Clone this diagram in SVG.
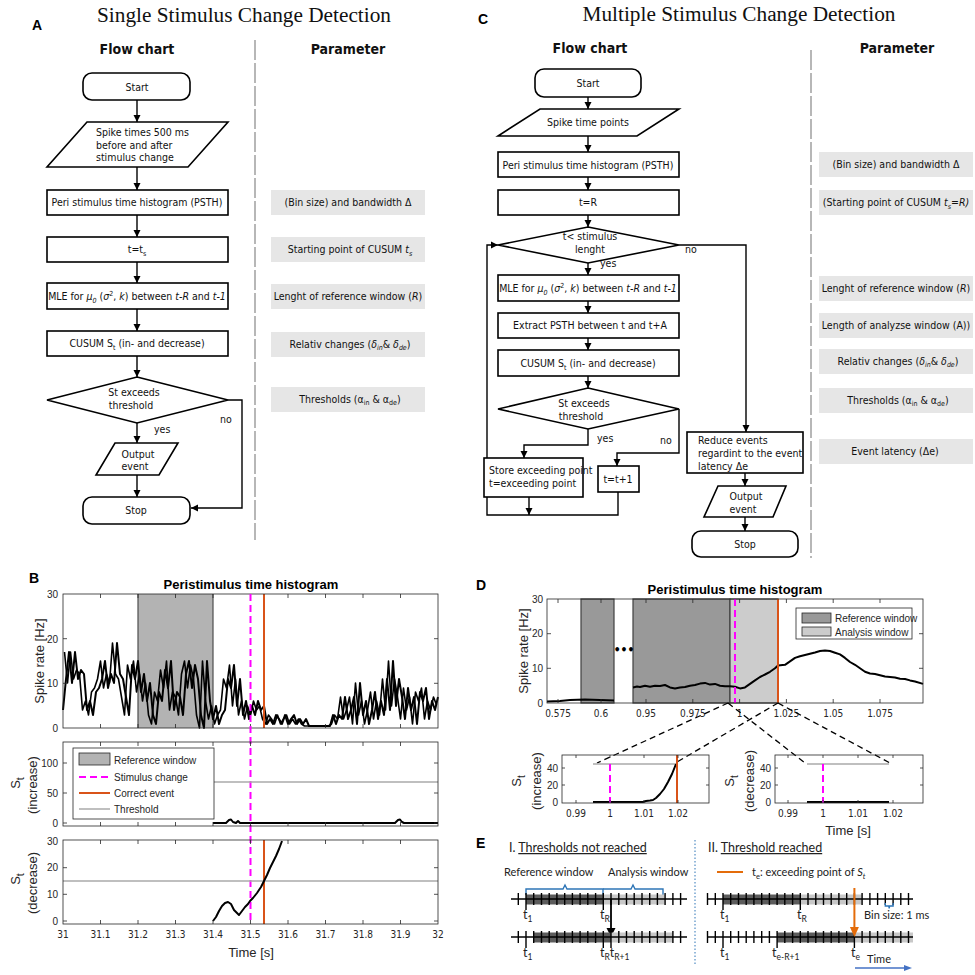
<svg xmlns="http://www.w3.org/2000/svg" width="975" height="975" viewBox="0 0 975 975">
<style>
text{font-family:'DejaVu Sans Condensed','DejaVu Sans',sans-serif}
.ttl{font-family:'Liberation Serif','Times New Roman',serif;font-size:21.3px;fill:#111}
.pl{font-family:'Liberation Sans',Arial,sans-serif;font-weight:bold;font-size:14px;fill:#000}
.hd{font-weight:bold;font-size:14px;fill:#111}
.ft{font-size:10.5px;fill:#111}
.nd{fill:#fff;stroke:#000;stroke-width:1.6}
.cn{fill:none;stroke:#000;stroke-width:1.4;marker-end:url(#ah)}
.ln{fill:none;stroke:#000;stroke-width:1.4}
.pb{fill:#e6e6e6}
.dv{stroke:#a0a0a0;stroke-width:1.5;stroke-dasharray:20 3}
.ax{fill:none;stroke:#262626;stroke-width:0.8}
.tk{fill:none;stroke:#262626;stroke-width:0.8}
.tl{font-family:'Liberation Sans',Arial,sans-serif;font-size:10px;fill:#262626}
.al{font-family:'Liberation Sans',Arial,sans-serif;font-size:13px;fill:#262626}
.pt{font-family:'Liberation Sans',Arial,sans-serif;font-size:13px;font-weight:bold;fill:#000}
.sig{fill:none;stroke:#000;stroke-width:2;stroke-linejoin:round}
.sig2{fill:none;stroke:#000;stroke-width:1.6;stroke-linejoin:round}
.mg{stroke:#ff00ff;stroke-width:2;stroke-dasharray:7 4}
.or{stroke:#d95319;stroke-width:2}
.th{stroke:#aaaaaa;stroke-width:1.5}
.et{font-family:Lato,'Open Sans',sans-serif;font-size:11px;fill:#222}
.eb{font-family:Lato,'Open Sans',sans-serif;font-size:12.5px;fill:#222}
.bl{fill:none;stroke:#2e75b6;stroke-width:1.4}
</style>
<defs>
<marker id="ah" markerWidth="8" markerHeight="8" refX="7" refY="4" orient="auto" markerUnits="userSpaceOnUse"><path d="M0,0.5 L7,4 L0,7.5 Z" fill="#000"/></marker>
<path id="xtB" class="tk" d="M100.5,0v4M138,0v4M175.5,0v4M213,0v4M250.5,0v4M288,0v4M325.5,0v4M363,0v4M400.5,0v4"/>
<path id="tkI" class="ln" stroke-width="1.2" d="M518.3,0v12M526,0v12M533.7,0v12M541.5,0v12M549.2,0v12M556.9,0v12M564.7,0v12M572.4,0v12M580.1,0v12M587.8,0v12M595.6,0v12M603.3,0v12M611,0v12M618.8,0v12M626.5,0v12M634.2,0v12M642,0v12M649.7,0v12M657.4,0v12M665.1,0v12M672.9,0v12M680.6,0v12"/>
<path id="tkII" class="ln" stroke-width="1.2" d="M707.5,0v12M715.3,0v12M723,0v12M730.7,0v12M738.5,0v12M746.2,0v12M753.9,0v12M761.7,0v12M769.4,0v12M777.1,0v12M784.8,0v12M792.6,0v12M800.3,0v12M808,0v12M815.8,0v12M823.5,0v12M831.2,0v12M838.9,0v12M846.7,0v12M854.4,0v12M862.1,0v12M869.9,0v12M877.6,0v12M885.3,0v12M893.1,0v12M900.8,0v12M908.5,0v12"/>
</defs>
<rect width="975" height="975" fill="#fff"/>

<!-- ===== Panel A ===== -->
<text class="ttl" x="244" y="22" text-anchor="middle">Single Stimulus Change Detection</text>
<text class="pl" x="32" y="30">A</text>
<text class="hd" x="137" y="54" text-anchor="middle">Flow chart</text>
<text class="hd" x="348" y="54" text-anchor="middle">Parameter</text>
<line class="dv" x1="255" y1="40" x2="255" y2="540"/>

<g id="A-connectors">
<line class="cn" x1="137" y1="100" x2="137" y2="122"/>
<line class="cn" x1="137" y1="167" x2="137" y2="190"/>
<line class="cn" x1="137" y1="215" x2="137" y2="237"/>
<line class="cn" x1="137" y1="262" x2="137" y2="283"/>
<line class="cn" x1="137" y1="309" x2="137" y2="331"/>
<line class="cn" x1="137" y1="356" x2="137" y2="377"/>
<line class="cn" x1="137" y1="423" x2="137" y2="443"/>
<line class="cn" x1="137" y1="475" x2="137" y2="497"/>
<polyline class="cn" points="228,400 242,400 242,508 191,508"/>
<text class="ft" x="220" y="423">no</text>
<text class="ft" x="154" y="433">yes</text>
</g>

<g id="A-start"><rect class="nd" x="83" y="73" width="107" height="27" rx="9"/><text class="ft" x="137" y="90.5" text-anchor="middle">Start</text></g>
<g id="A-spikes"><polygon class="nd" points="87,122 228,122 188,167 47,167"/>
<text class="ft" x="96" y="136">Spike times 500 ms</text><text class="ft" x="96" y="148.5">before and after</text><text class="ft" x="96" y="161">stimulus change</text></g>
<g id="A-psth"><rect class="nd" x="47" y="190" width="181" height="25"/><text class="ft" x="137" y="206" text-anchor="middle">Peri stimulus time histogram (PSTH)</text></g>
<g id="A-tts"><rect class="nd" x="47" y="237" width="181" height="25"/><text class="ft" x="137" y="253" text-anchor="middle">t=t<tspan dy="2.5" font-size="7">s</tspan></text></g>
<g id="A-mle"><rect class="nd" x="47" y="283" width="181" height="26"/><text class="ft" x="137" y="300" text-anchor="middle">MLE for <tspan font-style="italic">μ</tspan><tspan dy="2.5" font-size="7" font-style="italic">0</tspan><tspan dy="-2.5"> (</tspan><tspan font-style="italic">σ</tspan><tspan dy="-4" font-size="7">2</tspan><tspan dy="4">, </tspan><tspan font-style="italic">k</tspan>) between <tspan font-style="italic">t-R</tspan> and <tspan font-style="italic">t-1</tspan></text></g>
<g id="A-cusum"><rect class="nd" x="47" y="331" width="181" height="25"/><text class="ft" x="137" y="347" text-anchor="middle">CUSUM S<tspan dy="2.5" font-size="7">t</tspan><tspan dy="-2.5"> (in- and decrease)</tspan></text></g>
<g id="A-decision"><polygon class="nd" points="137,377 228,400 137,423 47,400"/><text class="ft" x="134" y="395.5" text-anchor="middle">St exceeds</text><text class="ft" x="131" y="408.5" text-anchor="middle">threshold</text></g>
<g id="A-output"><polygon class="nd" points="115,443 178,443 159,475 96,475"/><text class="ft" x="138" y="457.5" text-anchor="middle">Output</text><text class="ft" x="135" y="470" text-anchor="middle">event</text></g>
<g id="A-stop"><rect class="nd" x="83" y="497" width="107" height="27" rx="9"/><text class="ft" x="136" y="514" text-anchor="middle">Stop</text></g>

<g id="A-params">
<rect class="pb" x="271" y="190" width="154" height="25"/><text class="ft" x="348" y="206" text-anchor="middle">(Bin size) and bandwidth Δ</text>
<rect class="pb" x="271" y="237" width="154" height="25"/><text class="ft" x="350" y="253" text-anchor="middle">Starting point of CUSUM <tspan font-style="italic">t</tspan><tspan dy="2.5" font-size="7" font-style="italic">s</tspan></text>
<rect class="pb" x="271" y="284" width="154" height="25"/><text class="ft" x="348" y="299.5" text-anchor="middle">Lenght of reference window (<tspan font-style="italic">R</tspan>)</text>
<rect class="pb" x="271" y="332" width="154" height="25"/><text class="ft" x="350" y="347.5" text-anchor="middle">Relativ changes (<tspan font-style="italic">δ</tspan><tspan dy="2.5" font-size="7" font-style="italic">in</tspan><tspan dy="-2.5">&amp; </tspan><tspan font-style="italic">δ</tspan><tspan dy="2.5" font-size="7" font-style="italic">de</tspan><tspan dy="-2.5">)</tspan></text>
<rect class="pb" x="271" y="387" width="154" height="25"/><text class="ft" x="350" y="402.5" text-anchor="middle">Thresholds (α<tspan dy="2.5" font-size="7">in</tspan><tspan dy="-2.5"> &amp; α</tspan><tspan dy="2.5" font-size="7">de</tspan><tspan dy="-2.5">)</tspan></text>
</g>

<!-- ===== Panel C ===== -->
<text class="ttl" x="739" y="21" text-anchor="middle">Multiple Stimulus Change Detection</text>
<text class="pl" x="478" y="24">C</text>
<text class="hd" x="590" y="53" text-anchor="middle">Flow chart</text>
<text class="hd" x="897" y="53" text-anchor="middle">Parameter</text>
<line class="dv" x1="811" y1="50" x2="811" y2="558"/>

<g id="C-connectors">
<line class="cn" x1="588" y1="97" x2="588" y2="109"/>
<line class="cn" x1="588" y1="136" x2="588" y2="152"/>
<line class="cn" x1="588" y1="177" x2="588" y2="190"/>
<line class="cn" x1="588" y1="215" x2="588" y2="227"/>
<line class="cn" x1="588" y1="263" x2="588" y2="275"/>
<line class="cn" x1="588" y1="301" x2="588" y2="313"/>
<line class="cn" x1="588" y1="338" x2="588" y2="350"/>
<line class="cn" x1="588" y1="376" x2="588" y2="388"/>
<polyline class="cn" points="588,429 588,445 524,445 524,458"/>
<polyline class="cn" points="679,409 679,453 617,453 617,466"/>
<line class="cn" x1="529" y1="497" x2="529" y2="515"/>
<polyline class="cn" points="618,492 618,515 487,515 487,245 498,245"/>
<polyline class="cn" points="679,245 746,245 746,432"/>
<line class="cn" x1="745" y1="473" x2="745" y2="486"/>
<line class="cn" x1="745" y1="517" x2="745" y2="531"/>
<text class="ft" x="600" y="267">yes</text>
<text class="ft" x="685" y="253">no</text>
<text class="ft" x="597" y="442">yes</text>
<text class="ft" x="660" y="444">no</text>
</g>

<g id="C-start"><rect class="nd" x="535" y="69" width="106" height="28" rx="9"/><text class="ft" x="588" y="87" text-anchor="middle">Start</text></g>
<g id="C-spikes"><polygon class="nd" points="540,109 679,109 637,136 498,136"/><text class="ft" x="588" y="126" text-anchor="middle">Spike time points</text></g>
<g id="C-psth"><rect class="nd" x="498" y="152" width="181" height="25"/><text class="ft" x="588" y="168.5" text-anchor="middle">Peri stimulus time histogram (PSTH)</text></g>
<g id="C-tR"><rect class="nd" x="498" y="190" width="181" height="25"/><text class="ft" x="588" y="206" text-anchor="middle">t=R</text></g>
<g id="C-decision1"><polygon class="nd" points="588,227 679,245 588,263 498,245"/><text class="ft" x="590" y="240" text-anchor="middle">t&lt; stimulus</text><text class="ft" x="590" y="253" text-anchor="middle">lenght</text></g>
<g id="C-mle"><rect class="nd" x="498" y="275" width="181" height="26"/><text class="ft" x="588" y="292" text-anchor="middle">MLE for <tspan font-style="italic">μ</tspan><tspan dy="2.5" font-size="7" font-style="italic">0</tspan><tspan dy="-2.5"> (</tspan><tspan font-style="italic">σ</tspan><tspan dy="-4" font-size="7">2</tspan><tspan dy="4">, </tspan><tspan font-style="italic">k</tspan>) between <tspan font-style="italic">t-R</tspan> and <tspan font-style="italic">t-1</tspan></text></g>
<g id="C-extract"><rect class="nd" x="498" y="313" width="181" height="25"/><text class="ft" x="590" y="329" text-anchor="middle">Extract PSTH between t and t+A</text></g>
<g id="C-cusum"><rect class="nd" x="498" y="350" width="181" height="26"/><text class="ft" x="588" y="367" text-anchor="middle">CUSUM S<tspan dy="2.5" font-size="7">t</tspan><tspan dy="-2.5"> (in- and decrease)</tspan></text></g>
<g id="C-decision2"><polygon class="nd" points="588,388 679,409 588,429 498,409"/><text class="ft" x="584" y="407" text-anchor="middle">St exceeds</text><text class="ft" x="581" y="419.5" text-anchor="middle">threshold</text></g>
<g id="C-store"><rect class="nd" x="484" y="458" width="99" height="39"/><text class="ft" x="489" y="474">Store exceeding point</text><text class="ft" x="489" y="487">t=exceeding point</text></g>
<g id="C-inc"><rect class="nd" x="598" y="466" width="41" height="26"/><text class="ft" x="618" y="483" text-anchor="middle">t=t+1</text></g>
<g id="C-reduce"><rect class="nd" x="687" y="432" width="116" height="41"/><text class="ft" x="698" y="444">Reduce events</text><text class="ft" x="698" y="457">regardint to the event</text><text class="ft" x="698" y="469.5">latency Δe</text></g>
<g id="C-output"><polygon class="nd" points="718,486 786,486 773,517 704,517"/><text class="ft" x="746" y="500" text-anchor="middle">Output</text><text class="ft" x="743" y="512.5" text-anchor="middle">event</text></g>
<g id="C-stop"><rect class="nd" x="692" y="531" width="106" height="26" rx="9"/><text class="ft" x="745" y="548" text-anchor="middle">Stop</text></g>

<g id="C-params">
<rect class="pb" x="819" y="152" width="154" height="25"/><text class="ft" x="896" y="168" text-anchor="middle">(Bin size) and bandwidth Δ</text>
<rect class="pb" x="819" y="190" width="154" height="25"/><text class="ft" x="896" y="206" text-anchor="middle">(Starting point of CUSUM <tspan font-style="italic">t</tspan><tspan dy="2.5" font-size="7" font-style="italic">s</tspan><tspan dy="-2.5" font-style="italic">=R)</tspan></text>
<rect class="pb" x="819" y="276" width="154" height="25"/><text class="ft" x="896" y="291.5" text-anchor="middle">Lenght of reference window (<tspan font-style="italic">R</tspan>)</text>
<rect class="pb" x="819" y="313" width="154" height="25"/><text class="ft" x="896" y="329" text-anchor="middle">Length of analyzse window (A))</text>
<rect class="pb" x="819" y="349" width="154" height="25"/><text class="ft" x="898" y="364.5" text-anchor="middle">Relativ changes (<tspan font-style="italic">δ</tspan><tspan dy="2.5" font-size="7" font-style="italic">in</tspan><tspan dy="-2.5">&amp; </tspan><tspan font-style="italic">δ</tspan><tspan dy="2.5" font-size="7" font-style="italic">de</tspan><tspan dy="-2.5">)</tspan></text>
<rect class="pb" x="819" y="388" width="154" height="25"/><text class="ft" x="898" y="403.5" text-anchor="middle">Thresholds (α<tspan dy="2.5" font-size="7">in</tspan><tspan dy="-2.5"> &amp; α</tspan><tspan dy="2.5" font-size="7">de</tspan><tspan dy="-2.5">)</tspan></text>
<rect class="pb" x="819" y="439" width="154" height="25"/><text class="ft" x="895" y="455" text-anchor="middle">Event latency (Δe)</text>
</g>

<!-- ===== Panel B ===== -->
<text class="pl" x="29" y="583">B</text>
<text class="pt" x="251" y="589" text-anchor="middle">Peristimulus time histogram</text>
<g id="B-psth">
<rect x="138" y="594" width="75" height="134" fill="#b3b3b3"/>
<line x1="138" y1="594" x2="138" y2="728" stroke="#4d4d4d" stroke-width="1.2"/>
<line x1="213" y1="594" x2="213" y2="728" stroke="#4d4d4d" stroke-width="1.2"/>
<polyline class="sig" points="63,710 66,679 69,652 72,683 75,652 78,679 81,670 84,674 87,710 90,701 93,715 96,692 99,688 102,679 105,661 108,688 111,674 114,683 117,643 120,674 123,679 126,697 129,715 132,665 135,679 138,661 141,692 144,674 147,701 150,683 153,715 156,724 159,692 162,701 165,670 168,688 171,661 174,710 177,692 180,697 183,715 186,674 189,661 192,688 195,665 198,679 201,715 204,728 207,661 210,701 213,719 216,706 219,724 222,715 225,710 228,679 231,688 234,665 237,706 240,679 243,715 246,701 249,719 252,706 255,715 258,701 261,710 264,706 267,724 270,719 273,724 276,715 279,719 282,724 285,715 288,724 291,719 294,715 297,724 300,719 303,724 306,719 309,726 330,726 333,715 336,724 339,715 342,719 345,697 348,719 351,710 354,697 357,724 360,683 363,715 366,701 369,724 372,710 375,692 378,719 381,701 384,715 387,679 390,710 393,661 396,706 399,679 402,697 405,719 408,688 411,710 414,697 417,724 420,692 423,701 426,688 429,719 432,701 435,710 438,697"/>
<polyline class="sig2" points="64.5,652 67.5,683 70.5,652 73.5,679 76.5,670 79.5,674 82.5,710 85.5,701 88.5,715 91.5,692 94.5,688 97.5,679 100.5,661 103.5,688 106.5,674 109.5,683 112.5,643 115.5,674 118.5,679 121.5,697 124.5,715 127.5,665 130.5,679 133.5,661 136.5,692 139.5,674 142.5,701 145.5,683 148.5,715 151.5,724 154.5,692 157.5,701 160.5,670 163.5,688 166.5,661 169.5,710 172.5,692 175.5,697 178.5,715 181.5,674 184.5,661 187.5,688 190.5,665 193.5,679 196.5,715 199.5,728 202.5,661 205.5,701 208.5,719 211.5,706 214.5,724 217.5,715 220.5,710 223.5,679 226.5,688 229.5,665 232.5,706 235.5,679 238.5,715 241.5,701 244.5,719 247.5,706 250.5,715 253.5,701 256.5,710 259.5,706 262.5,719 265.5,724 268.5,715 271.5,719 274.5,724 277.5,715 280.5,724 283.5,719 286.5,715 289.5,724 292.5,719 295.5,724 298.5,719 301.5,724 304.5,726 328.5,726 331.5,724 334.5,715 337.5,719 340.5,697 343.5,719 346.5,710 349.5,697 352.5,724 355.5,683 358.5,715 361.5,701 364.5,724 367.5,710 370.5,692 373.5,719 376.5,701 379.5,715 382.5,679 385.5,710 388.5,661 391.5,706 394.5,679 397.5,697 400.5,719 403.5,688 406.5,710 409.5,697 412.5,724 415.5,692 418.5,701 421.5,688 424.5,719 427.5,701 430.5,710 433.5,697 436.5,705"/>
<line class="or" x1="264" y1="594" x2="264" y2="728"/>
<rect class="ax" x="63" y="594" width="375" height="134"/>
<use href="#xtB" y="594"/>
<use href="#xtB" transform="translate(0,728) scale(1,-1)"/>
<path class="tk" d="M63,683.3h4M63,638.7h4M438,683.3h-4M438,638.7h-4"/>
<text class="tl" x="58" y="597.5" text-anchor="end">30</text>
<text class="tl" x="58" y="642.5" text-anchor="end">20</text>
<text class="tl" x="58" y="687" text-anchor="end">10</text>
<text class="tl" x="58" y="731.5" text-anchor="end">0</text>
<text class="al" transform="translate(44,661) rotate(-90)" text-anchor="middle">Spike rate [Hz]</text>
</g>

<line class="mg" x1="250.5" y1="594" x2="250.5" y2="924"/>

<g id="B-increase">
<line class="th" x1="213" y1="782" x2="438" y2="782"/>
<polyline class="sig" points="213,823 226,823 229,820 231,819.5 233,822 236,823 238,821 240,823 395,823 398,820 400,819.5 402,822 404,823 438,823"/>
<rect class="ax" x="63" y="742" width="375" height="84"/>
<use href="#xtB" y="742"/>
<use href="#xtB" transform="translate(0,826) scale(1,-1)"/>
<path class="tk" d="M63,823h4M63,793h4M63,763h4M438,823h-4M438,793h-4M438,763h-4"/>
<text class="tl" x="58" y="826.5" text-anchor="end">0</text>
<text class="tl" x="58" y="796.5" text-anchor="end">50</text>
<text class="tl" x="58" y="766.5" text-anchor="end">100</text>
<text class="al" transform="translate(20,783) rotate(-90)" text-anchor="middle" font-size="16">S<tspan dy="4" font-size="11">t</tspan></text>
<text class="al" transform="translate(37,785) rotate(-90)" text-anchor="middle">(increase)</text>
<g id="B-legend">
<rect x="73" y="748" width="141" height="71" fill="#fff" stroke="#262626" stroke-width="0.8"/>
<rect x="79" y="753" width="31" height="12" fill="#b3b3b3" stroke="#262626" stroke-width="0.8"/>
<text class="tl" x="114" y="764" font-size="10.5">Reference window</text>
<line class="mg" x1="79" y1="777" x2="110" y2="777"/>
<text class="tl" x="114" y="781" font-size="10.5">Stimulus change</text>
<line class="or" x1="79" y1="793" x2="110" y2="793"/>
<text class="tl" x="114" y="797" font-size="10.5">Correct event</text>
<line class="th" x1="79" y1="809" x2="110" y2="809"/>
<text class="tl" x="114" y="813" font-size="10.5">Threshold</text>
</g>
</g>

<g id="B-decrease">
<line class="th" x1="63" y1="881" x2="438" y2="881"/>
<line class="or" x1="264" y1="840" x2="264" y2="924"/>
<polyline class="sig" stroke-width="1.8" points="213,921 216,917 219,911 222,906 225,903 228,902 231,904 234,910 237,913 239,915 242,911 245,907 248,904 250,901 253,898 257,893 261,887 264,881 267,875 270,868 273,862 276,856 279,849 282,841"/>
<rect class="ax" x="63" y="840" width="375" height="84"/>
<use href="#xtB" y="840"/>
<use href="#xtB" transform="translate(0,924) scale(1,-1)"/>
<path class="tk" d="M63,921h4M63,894.3h4M63,867.7h4M438,921h-4M438,894.3h-4M438,867.7h-4"/>
<text class="tl" x="58" y="924.5" text-anchor="end">0</text>
<text class="tl" x="58" y="898" text-anchor="end">10</text>
<text class="tl" x="58" y="871" text-anchor="end">20</text>
<text class="tl" x="58" y="844.5" text-anchor="end">30</text>
<text class="al" transform="translate(20,879) rotate(-90)" text-anchor="middle" font-size="16">S<tspan dy="4" font-size="11">t</tspan></text>
<text class="al" transform="translate(37,883) rotate(-90)" text-anchor="middle">(decrease)</text>
<g class="tl" text-anchor="middle">
<text x="63" y="938">31</text><text x="100.5" y="938">31.1</text><text x="138" y="938">31.2</text><text x="175.5" y="938">31.3</text><text x="213" y="938">31.4</text><text x="250.5" y="938">31.5</text><text x="288" y="938">31.6</text><text x="325.5" y="938">31.7</text><text x="363" y="938">31.8</text><text x="400.5" y="938">31.9</text><text x="438" y="938">32</text>
</g>
<text class="al" x="251" y="957" text-anchor="middle">Time [s]</text>
</g>

<!-- ===== Panel D ===== -->
<text class="pl" x="476" y="590">D</text>
<text class="pt" x="735" y="594" text-anchor="middle">Peristimulus time histogram</text>
<g id="D-psth">
<rect x="581" y="599" width="33" height="104" fill="#999" stroke="#404040" stroke-width="1.2"/>
<rect x="633" y="599" width="97" height="104" fill="#999" stroke="#404040" stroke-width="1.2"/>
<rect x="730" y="599" width="48" height="104" fill="#ccc" stroke="#404040" stroke-width="1.2"/>
<polyline class="sig" points="547,701.5 560,701 570,700 585,699.5 600,700 614,700.5"/>
<polyline class="sig" points="633,687.4 637,686.5 640,687 645,685.7 650,686.7 655,685.7 660,686 665,685 670,687.4 675,688.4 680,687.4 685,687 690,685.7 695,685 700,683.6 705,682.9 710,684.6 715,683.9 720,685.7 725,686.3 730,686.3 735,686.7 740,688.4 745,687.4 750,683.9 755,680.4 760,677 765,674.5 770,671.8 775,668.3 778,665.5 785,664.8 790,661.4 795,657.9 800,656.2 805,655 810,653.7 815,652.5 820,651 825,650.5 830,651 835,652.7 840,654.4 845,657.9 850,662 855,664.8 860,668.3 865,671.8 870,673.5 875,674 880,675.2 885,676.5 890,677 895,677.5 900,678.7 905,679 910,680.4 915,681.5 923,683.9"/>
<line class="mg" x1="735" y1="599" x2="735" y2="703"/>
<line class="or" x1="778" y1="599" x2="778" y2="703"/>
<text x="624" y="654" text-anchor="middle" font-family="'Liberation Sans',Arial,sans-serif" font-size="12" font-weight="bold">•••</text>
<rect class="ax" x="547" y="599" width="376" height="104"/>
<path class="tk" d="M558,599v4M601,599v4M646,599v4M692.8,599v4M739.6,599v4M786.4,599v4M833.2,599v4M880,599v4M558,703v-4M601,703v-4M646,703v-4M692.8,703v-4M739.6,703v-4M786.4,703v-4M833.2,703v-4M880,703v-4M547,668.3h4M547,633.7h4M923,668.3h-4M923,633.7h-4"/>
<text class="tl" x="543" y="706.5" text-anchor="end">0</text>
<text class="tl" x="543" y="671.8" text-anchor="end">10</text>
<text class="tl" x="543" y="637.2" text-anchor="end">20</text>
<text class="tl" x="543" y="602.5" text-anchor="end">30</text>
<g class="tl" text-anchor="middle">
<text x="558" y="717">0.575</text><text x="601" y="717">0.6</text><text x="646" y="717">0.95</text><text x="692.8" y="717">0.975</text><text x="739.6" y="717">1</text><text x="786.4" y="717">1.025</text><text x="833.2" y="717">1.05</text><text x="880" y="717">1.075</text>
</g>
<text class="al" transform="translate(528,651) rotate(-90)" text-anchor="middle">Spike rate [Hz]</text>
<g id="D-legend">
<rect x="796" y="608" width="116" height="31" fill="#fff" stroke="#262626" stroke-width="0.8"/>
<rect x="802" y="613" width="29" height="10" fill="#999" stroke="#262626" stroke-width="0.8"/>
<text class="tl" x="835" y="622" font-size="9.5">Reference window</text>
<rect x="802" y="627" width="29" height="9" fill="#ccc" stroke="#262626" stroke-width="0.8"/>
<text class="tl" x="835" y="635.5" font-size="9.5">Analysis window</text>
</g>
</g>

<g id="D-zoomlines" stroke="#000" stroke-width="1.3" stroke-dasharray="6 4" fill="none">
<line x1="728" y1="703" x2="597" y2="763"/>
<line x1="778" y1="703" x2="677" y2="762"/>
<line x1="728" y1="703" x2="805" y2="763"/>
<line x1="778" y1="703" x2="890" y2="763"/>
</g>

<g id="D-increase">
<line class="th" x1="593" y1="764" x2="677" y2="764"/>
<polyline class="sig" points="593,802 643,802 646,801 650,800.5 653,800 656,798 660,794 664,789 668,782 672,774 676,764"/>
<line class="mg" x1="610" y1="764" x2="610" y2="803"/>
<line class="or" x1="677" y1="755" x2="677" y2="803"/>
<rect class="ax" x="562" y="755" width="147" height="48"/>
<path class="tk" d="M576,755v3M610,755v3M644,755v3M678,755v3M576,803v-3M610,803v-3M644,803v-3M678,803v-3M562,785h3M562,768h3M709,785h-3M709,768h-3"/>
<text class="tl" x="558" y="805.5" text-anchor="end">0</text>
<text class="tl" x="558" y="788.5" text-anchor="end">20</text>
<text class="tl" x="558" y="771.5" text-anchor="end">40</text>
<g class="tl" text-anchor="middle"><text x="576" y="817">0.99</text><text x="610" y="817">1</text><text x="644" y="817">1.01</text><text x="678" y="817">1.02</text></g>
<text class="al" transform="translate(521,781) rotate(-90)" text-anchor="middle" font-size="15">S<tspan dy="4" font-size="10">t</tspan></text>
<text class="al" transform="translate(541,781) rotate(-90)" text-anchor="middle" font-size="12.5">(increase)</text>
</g>

<g id="D-decrease">
<line class="th" x1="807" y1="764" x2="889" y2="764"/>
<line class="sig" x1="807" y1="802" x2="889" y2="802"/>
<line class="mg" x1="823" y1="764" x2="823" y2="803"/>
<rect class="ax" x="775" y="755" width="148" height="48"/>
<path class="tk" d="M788,755v3M823,755v3M858,755v3M893,755v3M788,803v-3M823,803v-3M858,803v-3M893,803v-3M775,785h3M775,768h3M923,785h-3M923,768h-3"/>
<text class="tl" x="771" y="805.5" text-anchor="end">0</text>
<text class="tl" x="771" y="788.5" text-anchor="end">20</text>
<text class="tl" x="771" y="771.5" text-anchor="end">40</text>
<g class="tl" text-anchor="middle"><text x="788" y="817">0.99</text><text x="823" y="817">1</text><text x="858" y="817">1.01</text><text x="893" y="817">1.02</text></g>
<text class="al" transform="translate(734,781) rotate(-90)" text-anchor="middle" font-size="15">S<tspan dy="4" font-size="10">t</tspan></text>
<text class="al" transform="translate(754,781) rotate(-90)" text-anchor="middle" font-size="12.5">(decrease)</text>
<text class="al" x="848" y="835" text-anchor="middle">Time [s]</text>
</g>

<!-- ===== Panel E ===== -->
<text class="pl" x="476" y="848">E</text>
<line x1="695" y1="840" x2="695" y2="966" stroke="#2e75b6" stroke-width="1" stroke-dasharray="1.5 2"/>
<g id="E-I">
<text class="eb" x="509" y="852">I. <tspan text-decoration="underline">Thresholds not reached</tspan></text>
<text class="et" x="504" y="876">Reference window</text>
<text class="et" x="608" y="876">Analysis window</text>
<path class="bl" d="M526,895V889H563L565,885L567,889H603V895"/>
<path class="bl" d="M603,889H631L633,885L635,889H663V895"/>
<rect x="526" y="894.5" width="77.3" height="10" fill="#5c5c5c"/>
<rect x="603.3" y="894.5" width="61.8" height="10" fill="#c8c8c8"/>
<line class="ln" x1="511" y1="899" x2="687" y2="899" stroke-width="1.5"/>
<use href="#tkI" y="893"/>
<path class="ln" stroke-width="1.2" d="M526,905v5M603.3,905v5"/>
<text class="eb" x="523" y="919">t<tspan dy="3" font-size="8.5">1</tspan></text>
<text class="eb" x="600" y="919">t<tspan dy="3" font-size="8.5">R</tspan></text>
<line x1="611" y1="899" x2="611" y2="929" stroke="#000" stroke-width="1.8"/>
<path d="M606.5,928 L615.5,928 L611,937 Z" fill="#000"/>
<rect x="533.7" y="932.5" width="77.3" height="10" fill="#5c5c5c"/>
<rect x="611" y="932.5" width="61.9" height="10" fill="#c8c8c8"/>
<line class="ln" x1="511" y1="937" x2="687" y2="937" stroke-width="1.5"/>
<use href="#tkI" y="931"/>
<path class="ln" stroke-width="1.2" d="M526,943v5M603.3,943v5M611,943v5"/>
<text class="eb" x="523" y="957">t<tspan dy="3" font-size="8.5">1</tspan></text>
<text class="eb" x="600" y="957">t<tspan dy="3" font-size="8.5">R</tspan><tspan dy="-3">t</tspan><tspan dy="3" font-size="8.5">R+1</tspan></text>
</g>
<g id="E-II">
<text class="eb" x="708" y="852">II. <tspan text-decoration="underline">Threshold reached</tspan></text>
<line x1="717" y1="872" x2="743" y2="872" stroke="#e46c0a" stroke-width="2"/>
<text class="et" x="752" y="876">t<tspan dy="3" font-size="7.5">e</tspan><tspan dy="-3">: exceeding point of </tspan><tspan font-style="italic">S</tspan><tspan dy="3" font-size="7.5" font-style="italic">t</tspan></text>
<rect x="723" y="894.5" width="77.3" height="10" fill="#5c5c5c"/>
<rect x="800.3" y="894.5" width="61.8" height="10" fill="#c8c8c8"/>
<line class="ln" x1="707" y1="899" x2="913" y2="899" stroke-width="1.5"/>
<use href="#tkII" y="893"/>
<path class="ln" stroke-width="1.2" d="M723,905v5M800.3,905v5"/>
<text class="eb" x="720" y="919">t<tspan dy="3" font-size="8.5">1</tspan></text>
<text class="eb" x="797" y="919">t<tspan dy="3" font-size="8.5">R</tspan></text>
<path class="bl" d="M885.3,903v3h3.5l0.4,2.5l0.4,-2.5h3.5v-3"/>
<text class="et" x="864" y="919" font-size="9.5">Bin size: 1 ms</text>
<rect x="777.1" y="932.5" width="77.3" height="10" fill="#5c5c5c"/>
<rect x="854.4" y="932.5" width="58.6" height="10" fill="#c8c8c8"/>
<line class="ln" x1="707" y1="937" x2="913" y2="937" stroke-width="1.5"/>
<use href="#tkII" y="931"/>
<path class="ln" stroke-width="1.2" d="M723,943v5M777.1,943v5M854.4,943v5"/>
<line x1="854.4" y1="888" x2="854.4" y2="928" stroke="#e46c0a" stroke-width="2"/>
<path d="M849.9,927 L858.9,927 L854.4,937 Z" fill="#e46c0a"/>
<text class="eb" x="720" y="957">t<tspan dy="3" font-size="8.5">1</tspan></text>
<text class="eb" x="772" y="957">t<tspan dy="3" font-size="8.5">e-R+1</tspan></text>
<text class="eb" x="851" y="957">t<tspan dy="3" font-size="8.5">e</tspan></text>
<text class="et" x="867" y="963" font-size="9.5">Time</text>
<line x1="855" y1="968" x2="905" y2="968" stroke="#4472c4" stroke-width="1.3"/>
<path d="M904,965 L912,968 L904,971 Z" fill="#4472c4"/>
</g>
</svg>
